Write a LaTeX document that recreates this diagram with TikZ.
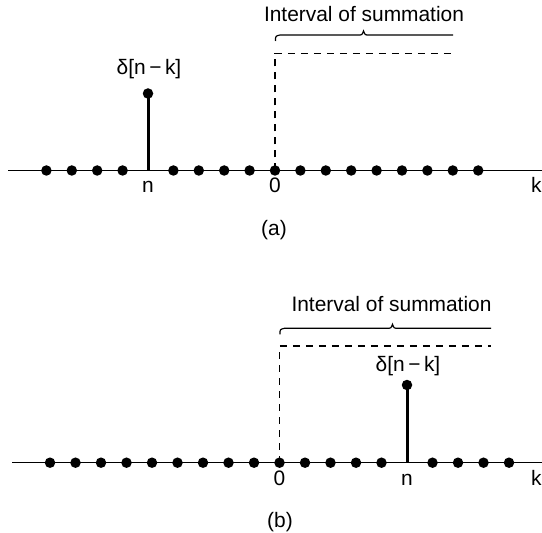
\documentclass[tikz,border=0pt]{standalone}
\usepackage{fontspec}
\setmainfont{Liberation Sans}
\begin{document}
\begin{tikzpicture}[x=1bp,y=-1bp,
  dot/.style={circle,fill=black,inner sep=0pt,minimum size=10.5bp},
  lbl/.style={font=\fontsize{21}{24}\selectfont,inner sep=0pt},
  axisline/.style={line width=1.4bp},
  stemline/.style={line width=3bp},
  dsh/.style={line width=1.2bp,dash pattern=on 7bp off 6bp},
  brc/.style={line width=1.2bp}]
\useasboundingbox (0,0) rectangle (542,533);

% ---------- panel (a) ----------
\coordinate (aL) at (8,170.5);
\coordinate (aR) at (542,170.5);
\draw[axisline] (aL) -- (aR);
\foreach \i in {-9,...,8}{
  \ifnum\i=-5\relax\else
    \node[dot] (ad\i) at ({275+25.4*\i},170.5) {};
  \fi
}
\coordinate (an) at (148,170.5);
\node[dot] (atop) at (148,93.5) {};
\draw[stemline] (an) -- (atop.center);
\node[lbl,anchor=base] (adelta) at (149,75) {δ[n\,−\,k]};
\node[lbl,anchor=base] (alabn) at (148,193) {n};
\node[lbl,anchor=base] (alab0) at (275,193) {0};
\node[lbl,anchor=base west] (alabk) at (531,193) {k};
\node[lbl] (acap) at (274,230) {(a)};
% interval
\coordinate (adc) at (275,53.3);
\coordinate (ade) at (453,53.3);
\draw[dsh] (ad0.center) -- (adc) -- (ade);
\coordinate (abL) at (275.5,41);
\coordinate (abR) at (453,35);
\draw[brc] (abL) .. controls (275.5,36) .. (280,35) -- (358,35)
  .. controls (362,35) .. (363.5,31) .. controls (365,35) .. (369,35) -- (abR);
\node[lbl,anchor=base] (aint) at (364,21.5) {Interval of summation};

% ---------- panel (b) ----------
\coordinate (bL) at (12,462.7);
\coordinate (bR) at (542,462.7);
\draw[axisline] (bL) -- (bR);
\foreach \i in {-9,...,9}{
  \ifnum\i=5\relax\else
    \node[dot] (bd\i) at ({279.5+25.5*\i},462.7) {};
  \fi
}
\coordinate (bn) at (407,462.7);
\node[dot] (btop) at (407,385) {};
\draw[stemline] (bn) -- (btop.center);
\node[lbl,anchor=base] (bdelta) at (408,371) {δ[n\,−\,k]};
\node[lbl,anchor=base] (blab0) at (279.5,485) {0};
\node[lbl,anchor=base] (blabn) at (407,485) {n};
\node[lbl,anchor=base west] (blabk) at (531,485) {k};
\node[lbl] (bcap) at (280,521.7) {(b)};
% interval
\coordinate (bdc) at (279.5,346);
\coordinate (bde) at (491,346);
\draw[dsh] (bd0.center) -- (bdc) -- (bde);
\coordinate (bbL) at (280,334.3);
\coordinate (bbR) at (491,328.3);
\draw[brc] (bbL) .. controls (280,329.3) .. (284.5,328.3) -- (387,328.3)
  .. controls (391,328.3) .. (392.5,324.3) .. controls (394,328.3) .. (398,328.3) -- (bbR);
\node[lbl,anchor=base] (bint) at (391.5,311.5) {Interval of summation};
\end{tikzpicture}
\end{document}
